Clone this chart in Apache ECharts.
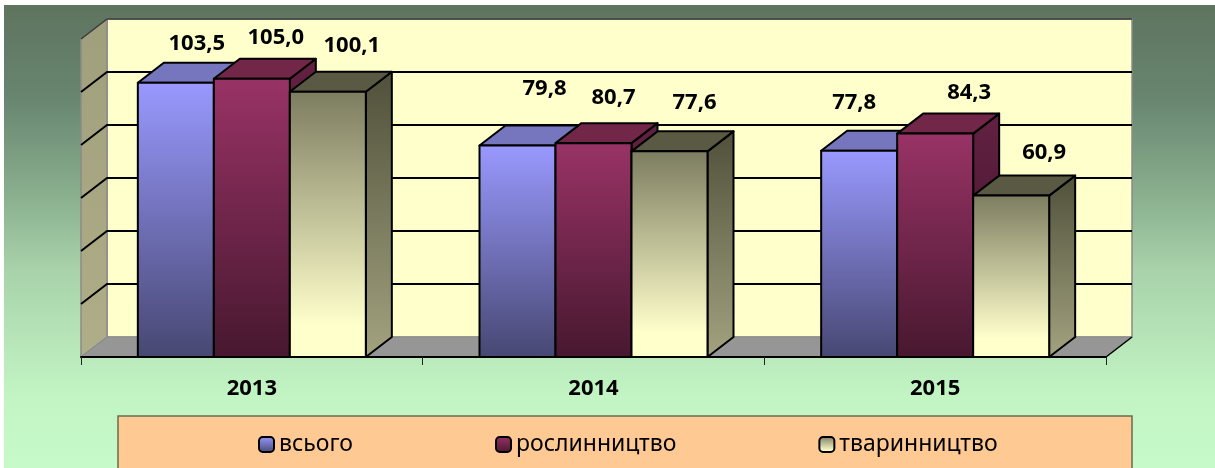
<!DOCTYPE html>
<html>
<head>
<meta charset="utf-8">
<style>
  html, body { margin: 0; padding: 0; background: #fff; }
  #chart { width: 1215px; height: 468px; }
</style>
<script src="https://cdn.jsdelivr.net/npm/echarts@6/dist/echarts.min.js"></script>
</head>
<body>
<div id="chart"></div>
<script>
var years = ['2013', '2014', '2015'];
var vsogo = [103.5, 79.8, 77.8];
var roslyn = [105.0, 80.7, 84.3];
var tvaryn = [100.1, 77.6, 60.9];
var gridTicks = [0, 20, 40, 60, 80, 100, 120];

// підписи були зсунуті вручну, тому зсув свій для кожної точки
var shiftVsogo = [[21, -39], [27, -57], [-5, -48]];
var shiftRoslyn = [[24, -41], [20, -45], [34, -41]];
var shiftTvaryn = [[24, -46], [25, -49], [33, -43]];

var FONT = '"Noto Sans", "Open Sans", sans-serif';
var DX = 26, DY = -20;   // глибина 3D
var BAR_W = 76;

function vgrad(stops) {
  return { type: 'linear', x: 0, y: 0, x2: 0, y2: 1,
    colorStops: stops.map(function (s) { return { offset: s[0], color: s[1] }; }) };
}

var palette = [
  { front: vgrad([[0, '#9999FF'], [1, '#474772']]), top: '#7676BE', side: vgrad([[0, '#5E5E9A'], [1, '#3A3A60']]) },
  { front: vgrad([[0, '#993366'], [1, '#47182F']]), top: '#722749', side: vgrad([[0, '#632142'], [1, '#3A1226']]) },
  { front: vgrad([[0, '#7C7C60'], [0.88, '#FFFFCC'], [1, '#FFFFCC']]), top: '#5A5A44', side: vgrad([[0, '#50503B'], [1, '#A3A380']]) }
];

function barSeries(name, values, shifts, idx) {
  return {
    name: name,
    type: 'custom',
    coordinateSystem: 'cartesian2d',
    clip: false,
    z: 3 + idx,
    itemStyle: { color: palette[idx].front, borderColor: '#000', borderWidth: 2 },
    data: values.map(function (v, i) { return [i, v]; }),
    encode: { x: 0, y: 1 },
    renderItem: function (params, api) {
      var i = api.value(0), v = api.value(1);
      var p = api.coord([i, v]);
      var base = api.coord([i, 0]);
      var x = p[0] + (idx - 1.5) * BAR_W, y = p[1], b = base[1];
      var line = { stroke: '#000', lineWidth: 2, lineJoin: 'round' };
      var c = palette[idx];
      function poly(points, fill) {
        return { type: 'polygon', shape: { points: points },
          style: Object.assign({ fill: fill }, line) };
      }
      return { type: 'group', children: [
        poly([[x + BAR_W, y], [x + BAR_W + DX, y + DY], [x + BAR_W + DX, b + DY], [x + BAR_W, b]], c.side),
        poly([[x, y], [x + DX, y + DY], [x + BAR_W + DX, y + DY], [x + BAR_W, y]], c.top),
        poly([[x, y], [x + BAR_W, y], [x + BAR_W, b], [x, b]], c.front),
        { type: 'text', z2: 20,
          x: x + BAR_W / 2 + shifts[i][0], y: y + shifts[i][1],
          style: { text: v.toFixed(1).replace('.', ','), fill: '#000',
            fontFamily: FONT, fontWeight: 'bold', fontSize: 22, align: 'center', verticalAlign: 'middle' } }
      ] };
    }
  };
}

// стіни, підлога і лінії сітки малюються від шкали осі значень
var wallSeries = {
  type: 'custom',
  coordinateSystem: 'cartesian2d',
  clip: false,
  silent: true,
  z: 1,
  data: gridTicks.map(function (t) { return [0, t]; }),
  encode: { y: 1 },
  renderItem: function (params, api) {
    var t = api.value(1);
    var y = api.coord([0, t])[1];
    var area = params.coordSys;
    var x0 = area.x, x1 = area.x + area.width;
    var kids = [];
    if (params.dataIndex === 0) {
      var yTop = api.coord([0, gridTicks[gridTicks.length - 1]])[1];
      kids.push(
        { type: 'polygon', shape: { points: [[x0 + DX, yTop + DY], [x1 + DX, yTop + DY], [x1 + DX, y + DY], [x0 + DX, y + DY]] },
          style: { fill: '#FFFFCC', stroke: '#8A8A8A', lineWidth: 1.5 } },
        { type: 'polygon', shape: { points: [[x0, yTop], [x0 + DX, yTop + DY], [x0 + DX, y + DY], [x0, y]] },
          style: { fill: vgrad([[0, '#A09F7C'], [1, '#B0AE88']]), stroke: '#8A8A8A', lineWidth: 1.5 } },
        { type: 'polygon', shape: { points: [[x0, y], [x0 + DX, y + DY], [x1 + DX, y + DY], [x1, y]] },
          style: { fill: '#969696', stroke: '#8A8A8A', lineWidth: 1 } },
        { type: 'line', shape: { x1: x1, y1: y, x2: x1 + DX, y2: y + DY }, style: { stroke: '#000', lineWidth: 1.5 } }
      );
    } else {
      var isTop = t === gridTicks[gridTicks.length - 1];
      kids.push(
        { type: 'polyline', shape: { points: [[x0, y], [x0 + DX, y + DY], [x1 + DX, y + DY]] },
          style: { fill: 'none', stroke: isTop ? '#3A3A3A' : '#000', lineWidth: isTop ? 1.5 : 2 } }
      );
    }
    return { type: 'group', children: kids };
  }
};

var chart = echarts.init(document.getElementById('chart'));
chart.setOption({
  animation: false,
  textStyle: { fontFamily: FONT },
  graphic: [
    { type: 'rect', z: -10, shape: { x: 4, y: 5, width: 1211, height: 463 },
      style: { fill: vgrad([[0, '#5E745F'], [0.2, '#688570'], [0.42, '#8BB18F'], [0.57, '#A8D2AA'], [0.85, '#C3F5C4'], [1, '#C6FAC8']]) } },
    { type: 'rect', z: -9, shape: { x: 118, y: 416, width: 1014, height: 60 },
      style: { fill: '#FFC993', stroke: '#6B6B50', lineWidth: 1.5 } }
  ],
  grid: { left: 81, right: 109, top: 39, bottom: 111 },
  legend: {
    left: 253, top: 428,
    itemWidth: 15, itemHeight: 15, itemGap: 142,
    icon: 'roundRect',
    textStyle: { fontFamily: FONT, fontSize: 23, color: '#000' },
    data: ['всього', 'рослинництво', 'тваринництво']
  },
  xAxis: {
    type: 'category',
    data: years,
    z: 10,
    axisLine: { lineStyle: { color: '#000', width: 2 } },
    axisTick: { show: true, length: 8, lineStyle: { color: '#222', width: 1 } },
    axisLabel: { color: '#000', fontFamily: FONT, fontWeight: 'bold', fontSize: 22, margin: 21 }
  },
  yAxis: {
    type: 'value', min: 0, max: 120, interval: 20,
    axisLine: { show: false }, axisTick: { show: false },
    axisLabel: { show: false }, splitLine: { show: false }
  },
  series: [
    wallSeries,
    barSeries('всього', vsogo, shiftVsogo, 0),
    barSeries('рослинництво', roslyn, shiftRoslyn, 1),
    barSeries('тваринництво', tvaryn, shiftTvaryn, 2)
  ]
});
</script>
</body>
</html>
